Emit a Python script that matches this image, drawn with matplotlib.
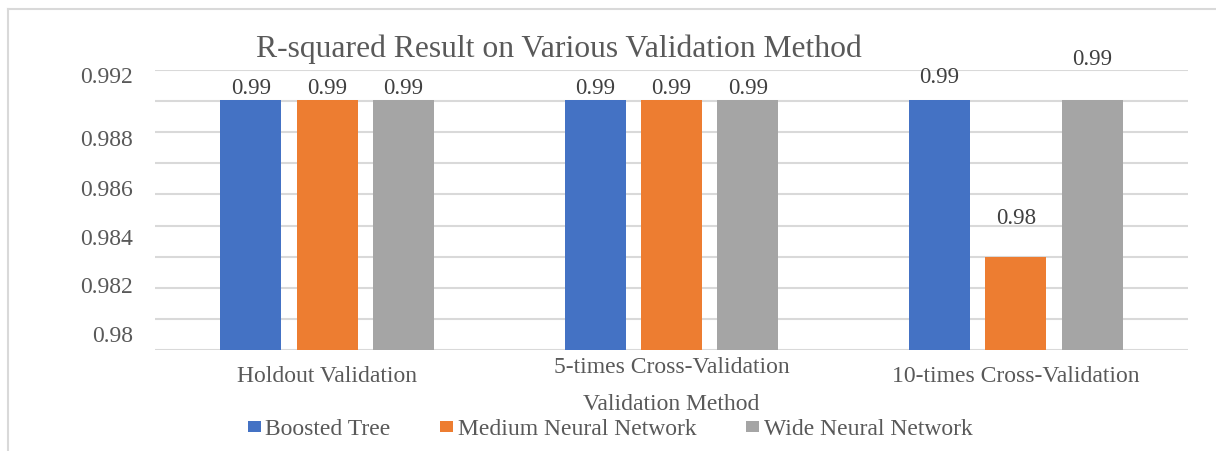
import matplotlib
matplotlib.use("Agg")
import matplotlib.pyplot as plt
from matplotlib.lines import Line2D
import numpy as np

# ---- data ----
categories = ["Holdout Validation", "5-times Cross-Validation", "10-times Cross-Validation"]
series_names = ["Boosted Tree", "Medium Neural Network", "Wide Neural Network"]
boosted_tree = [0.9906, 0.9906, 0.9906]
medium_nn = [0.9906, 0.9906, 0.9833]
wide_nn = [0.9906, 0.9906, 0.9906]
ytick_labels = ["0.992", "0.988", "0.986", "0.984", "0.982", "0.98"]
ytick_positions = [0.99181, 0.98889, 0.98659, 0.98431, 0.98206, 0.97977]

colors = ["#4472C4", "#ED7D31", "#A5A5A5"]
text_color = "#595959"
grid_color = "#D9D9D9"

plt.rcParams["font.family"] = ["Liberation Serif", "DejaVu Serif"]

W, H = 1216, 452
fig = plt.figure(figsize=(W / 100, H / 100), dpi=100)
ax = fig.add_axes([155 / W, 1 - 351 / H, (1188 - 155) / W, (351 - 71) / H])

x = np.arange(len(categories))
bw = 0.177
off = 0.222
series = [boosted_tree, medium_nn, wide_nn]
paddings = [[1.5, 1.5, 9.2], [1.5, 1.5, 21.5], [1.5, 1.5, 22.1]]
for i, (vals, name, c) in enumerate(zip(series, series_names, colors)):
    bars = ax.bar(x + (i - 1) * off, vals, bw, color=c, label=name, zorder=3)
    for j, b in enumerate(bars):
        ax.annotate(f"{vals[j]:.2f}", (b.get_x() + b.get_width() / 2, b.get_height()),
                    xytext=(0, paddings[i][j]), textcoords="offset points",
                    ha="center", va="bottom", fontsize=16.5, color="#404040")

ax.set_ylim(0.979, 0.992)
ax.set_xlim(-0.5, 2.5)

# gridlines
ax.set_yticks(np.linspace(0.979, 0.992, 10), minor=True)
ax.yaxis.grid(True, which="minor", color=grid_color, linewidth=1.5, zorder=0)
ax.yaxis.grid(False, which="major")
ax.set_yticks(ytick_positions, labels=ytick_labels)
ax.tick_params(axis="y", which="both", length=0, labelsize=17, labelcolor=text_color, pad=16)

ax.set_xticks(x, labels=categories)
ax.tick_params(axis="x", length=0, labelsize=17, labelcolor=text_color, pad=11)
ax.xaxis.get_major_ticks()[1].set_pad(4)

for s in ax.spines.values():
    s.set_visible(False)

ax.set_xlabel("Validation Method", fontsize=17, color=text_color, labelpad=5)
ax.set_title("R-squared Result on Various Validation Method", fontsize=22.8, color=text_color,
             x=(559 - 155) / (1188 - 155), y=1.0, pad=10)

leg = fig.legend(loc="center", bbox_to_anchor=(610 / W, 1 - 430 / H), ncol=3, frameon=False,
                 fontsize=17, labelcolor=text_color, handlelength=0.55, handleheight=0.34,
                 handletextpad=0.2, columnspacing=2.1, borderpad=0, borderaxespad=0)

# outer chart frame (top and left edges)
fig.add_artist(Line2D([8 / W, 1.0], [1 - 9.5 / H, 1 - 9.5 / H], color=grid_color, linewidth=1.5,
                      transform=fig.transFigure))
fig.add_artist(Line2D([8 / W, 8 / W], [0, 1 - 9.5 / H], color=grid_color, linewidth=1.5,
                      transform=fig.transFigure))

fig.savefig("out.png", dpi=100)
